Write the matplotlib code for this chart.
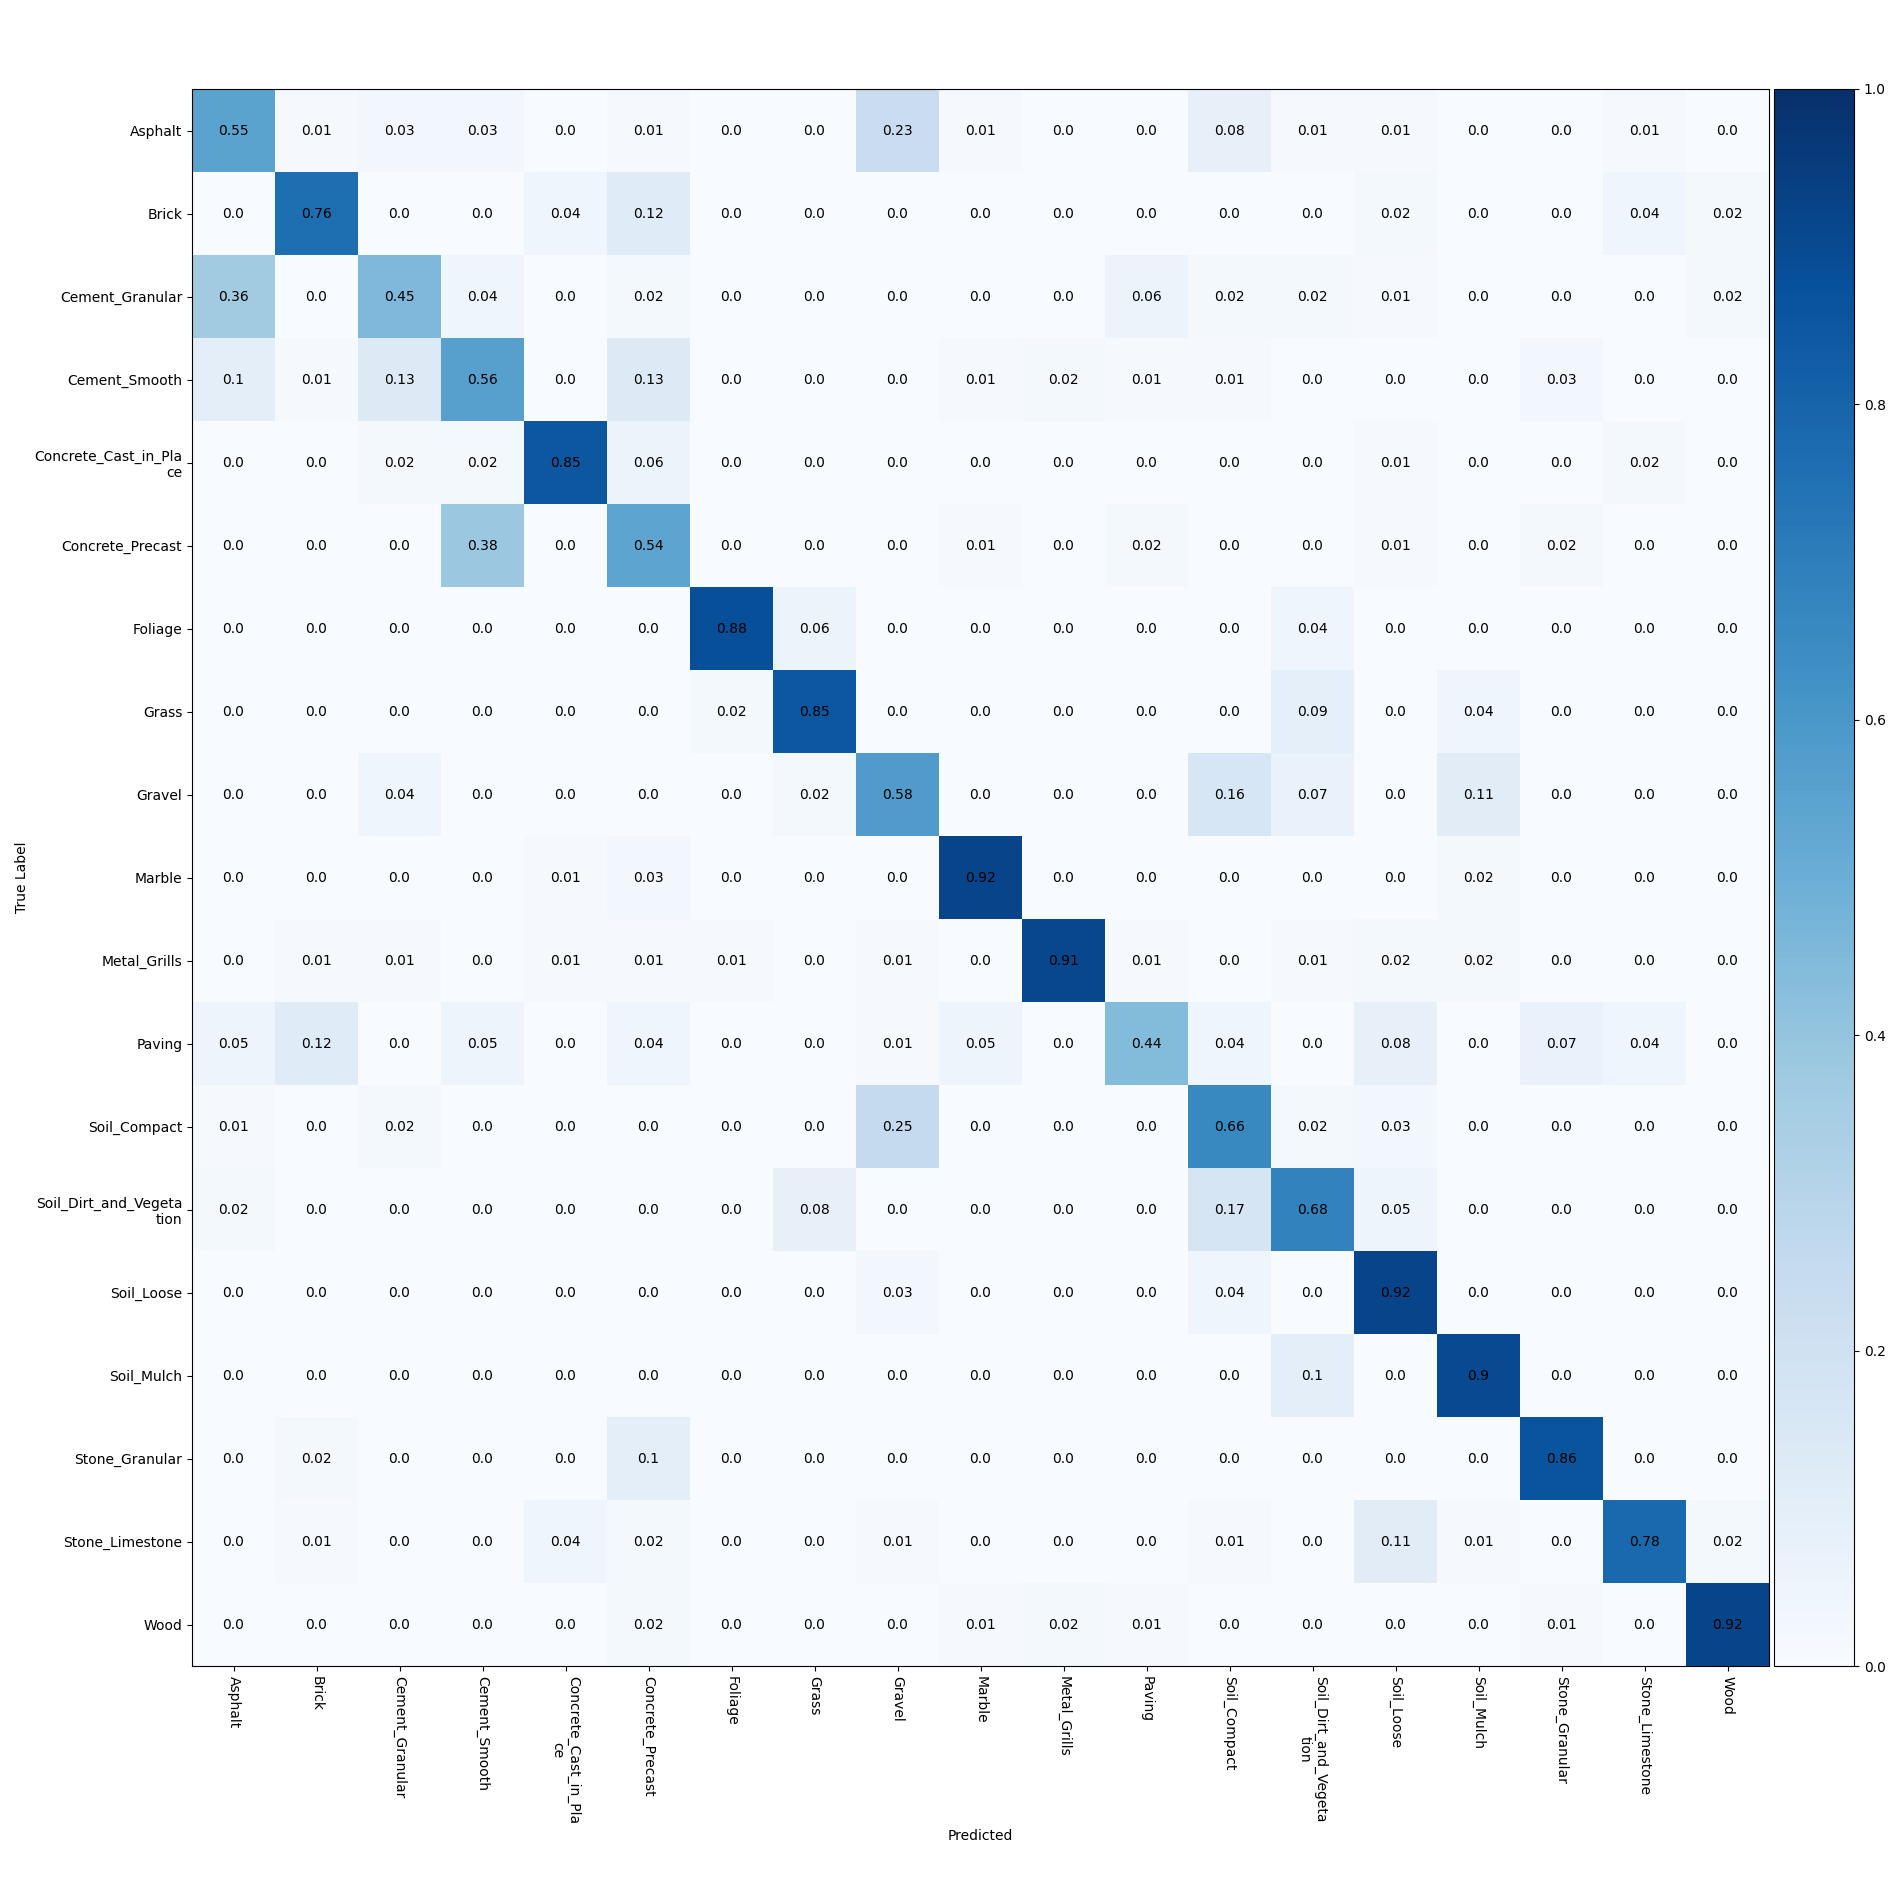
import numpy as np
import matplotlib
matplotlib.use('Agg')
import matplotlib.pyplot as plt


classes = ['Asphalt', 'Brick', 'Cement_Granular', 'Cement_Smooth',
           'Concrete_Cast_in_Place', 'Concrete_Precast', 'Foliage', 'Grass',
           'Gravel', 'Marble', 'Metal_Grills', 'Paving', 'Soil_Compact',
           'Soil_Dirt_and_Vegetation', 'Soil_Loose', 'Soil_Mulch',
           'Stone_Granular', 'Stone_Limestone', 'Wood']

# rows = true label, columns = predicted (normalised per row)
asphalt         = [0.55, 0.01, 0.03, 0.03, 0.0, 0.01, 0.0, 0.0, 0.23, 0.01, 0.0, 0.0, 0.08, 0.01, 0.01, 0.0, 0.0, 0.01, 0.0]
brick           = [0.0, 0.76, 0.0, 0.0, 0.04, 0.12, 0.0, 0.0, 0.0, 0.0, 0.0, 0.0, 0.0, 0.0, 0.02, 0.0, 0.0, 0.04, 0.02]
cement_granular = [0.36, 0.0, 0.45, 0.04, 0.0, 0.02, 0.0, 0.0, 0.0, 0.0, 0.0, 0.06, 0.02, 0.02, 0.01, 0.0, 0.0, 0.0, 0.02]
cement_smooth   = [0.1, 0.01, 0.13, 0.56, 0.0, 0.13, 0.0, 0.0, 0.0, 0.01, 0.02, 0.01, 0.01, 0.0, 0.0, 0.0, 0.03, 0.0, 0.0]
concrete_cast   = [0.0, 0.0, 0.02, 0.02, 0.85, 0.06, 0.0, 0.0, 0.0, 0.0, 0.0, 0.0, 0.0, 0.0, 0.01, 0.0, 0.0, 0.02, 0.0]
concrete_prec   = [0.0, 0.0, 0.0, 0.38, 0.0, 0.54, 0.0, 0.0, 0.0, 0.01, 0.0, 0.02, 0.0, 0.0, 0.01, 0.0, 0.02, 0.0, 0.0]
foliage         = [0.0, 0.0, 0.0, 0.0, 0.0, 0.0, 0.88, 0.06, 0.0, 0.0, 0.0, 0.0, 0.0, 0.04, 0.0, 0.0, 0.0, 0.0, 0.0]
grass           = [0.0, 0.0, 0.0, 0.0, 0.0, 0.0, 0.02, 0.85, 0.0, 0.0, 0.0, 0.0, 0.0, 0.09, 0.0, 0.04, 0.0, 0.0, 0.0]
gravel          = [0.0, 0.0, 0.04, 0.0, 0.0, 0.0, 0.0, 0.02, 0.58, 0.0, 0.0, 0.0, 0.16, 0.07, 0.0, 0.11, 0.0, 0.0, 0.0]
marble          = [0.0, 0.0, 0.0, 0.0, 0.01, 0.03, 0.0, 0.0, 0.0, 0.92, 0.0, 0.0, 0.0, 0.0, 0.0, 0.02, 0.0, 0.0, 0.0]
metal_grills    = [0.0, 0.01, 0.01, 0.0, 0.01, 0.01, 0.01, 0.0, 0.01, 0.0, 0.91, 0.01, 0.0, 0.01, 0.02, 0.02, 0.0, 0.0, 0.0]
paving          = [0.05, 0.12, 0.0, 0.05, 0.0, 0.04, 0.0, 0.0, 0.01, 0.05, 0.0, 0.44, 0.04, 0.0, 0.08, 0.0, 0.07, 0.04, 0.0]
soil_compact    = [0.01, 0.0, 0.02, 0.0, 0.0, 0.0, 0.0, 0.0, 0.25, 0.0, 0.0, 0.0, 0.66, 0.02, 0.03, 0.0, 0.0, 0.0, 0.0]
soil_dirt       = [0.02, 0.0, 0.0, 0.0, 0.0, 0.0, 0.0, 0.08, 0.0, 0.0, 0.0, 0.0, 0.17, 0.68, 0.05, 0.0, 0.0, 0.0, 0.0]
soil_loose      = [0.0, 0.0, 0.0, 0.0, 0.0, 0.0, 0.0, 0.0, 0.03, 0.0, 0.0, 0.0, 0.04, 0.0, 0.92, 0.0, 0.0, 0.0, 0.0]
soil_mulch      = [0.0, 0.0, 0.0, 0.0, 0.0, 0.0, 0.0, 0.0, 0.0, 0.0, 0.0, 0.0, 0.0, 0.1, 0.0, 0.9, 0.0, 0.0, 0.0]
stone_granular  = [0.0, 0.02, 0.0, 0.0, 0.0, 0.1, 0.0, 0.0, 0.0, 0.0, 0.0, 0.0, 0.0, 0.0, 0.0, 0.0, 0.86, 0.0, 0.0]
stone_limestone = [0.0, 0.01, 0.0, 0.0, 0.04, 0.02, 0.0, 0.0, 0.01, 0.0, 0.0, 0.0, 0.01, 0.0, 0.11, 0.01, 0.0, 0.78, 0.02]
wood            = [0.0, 0.0, 0.0, 0.0, 0.0, 0.02, 0.0, 0.0, 0.0, 0.01, 0.02, 0.01, 0.0, 0.0, 0.0, 0.0, 0.01, 0.0, 0.92]

cm = np.array([asphalt, brick, cement_granular, cement_smooth, concrete_cast,
               concrete_prec, foliage, grass, gravel, marble, metal_grills,
               paving, soil_compact, soil_dirt, soil_loose, soil_mulch,
               stone_granular, stone_limestone, wood])


def wrap(s, n=20):
    # break long class names every n characters
    return '\n'.join(s[i:i + n] for i in range(0, len(s), n))


labels = [wrap(c) for c in classes]

W = 1900.0
fig = plt.figure(figsize=(19, 19), dpi=100)
# matrix box and colorbar box placed in pixels of the 1900x1900 figure
ax = fig.add_axes([192 / W, 1 - 1666 / W, 1577 / W, 1577 / W])
cax = fig.add_axes([1774 / W, 1 - 1666 / W, 80 / W, 1577 / W])

im = ax.imshow(cm, cmap='Blues', vmin=0, vmax=1, interpolation='nearest',
               aspect='auto')
fig.colorbar(im, cax=cax)

for i in range(cm.shape[0]):
    for j in range(cm.shape[1]):
        ax.text(j, i, str(cm[i, j]), ha='center', va='center',
                color='black', fontsize=10)

ax.set_xticks(np.arange(len(classes)))
ax.set_yticks(np.arange(len(classes)))
ax.set_xticklabels(labels, rotation=270, fontsize=10)
ax.set_yticklabels(labels, fontsize=10)
ax.set_xlabel('Predicted', fontsize=10)
ax.set_ylabel('True Label', fontsize=10)

fig.savefig('out.png', dpi=100)
